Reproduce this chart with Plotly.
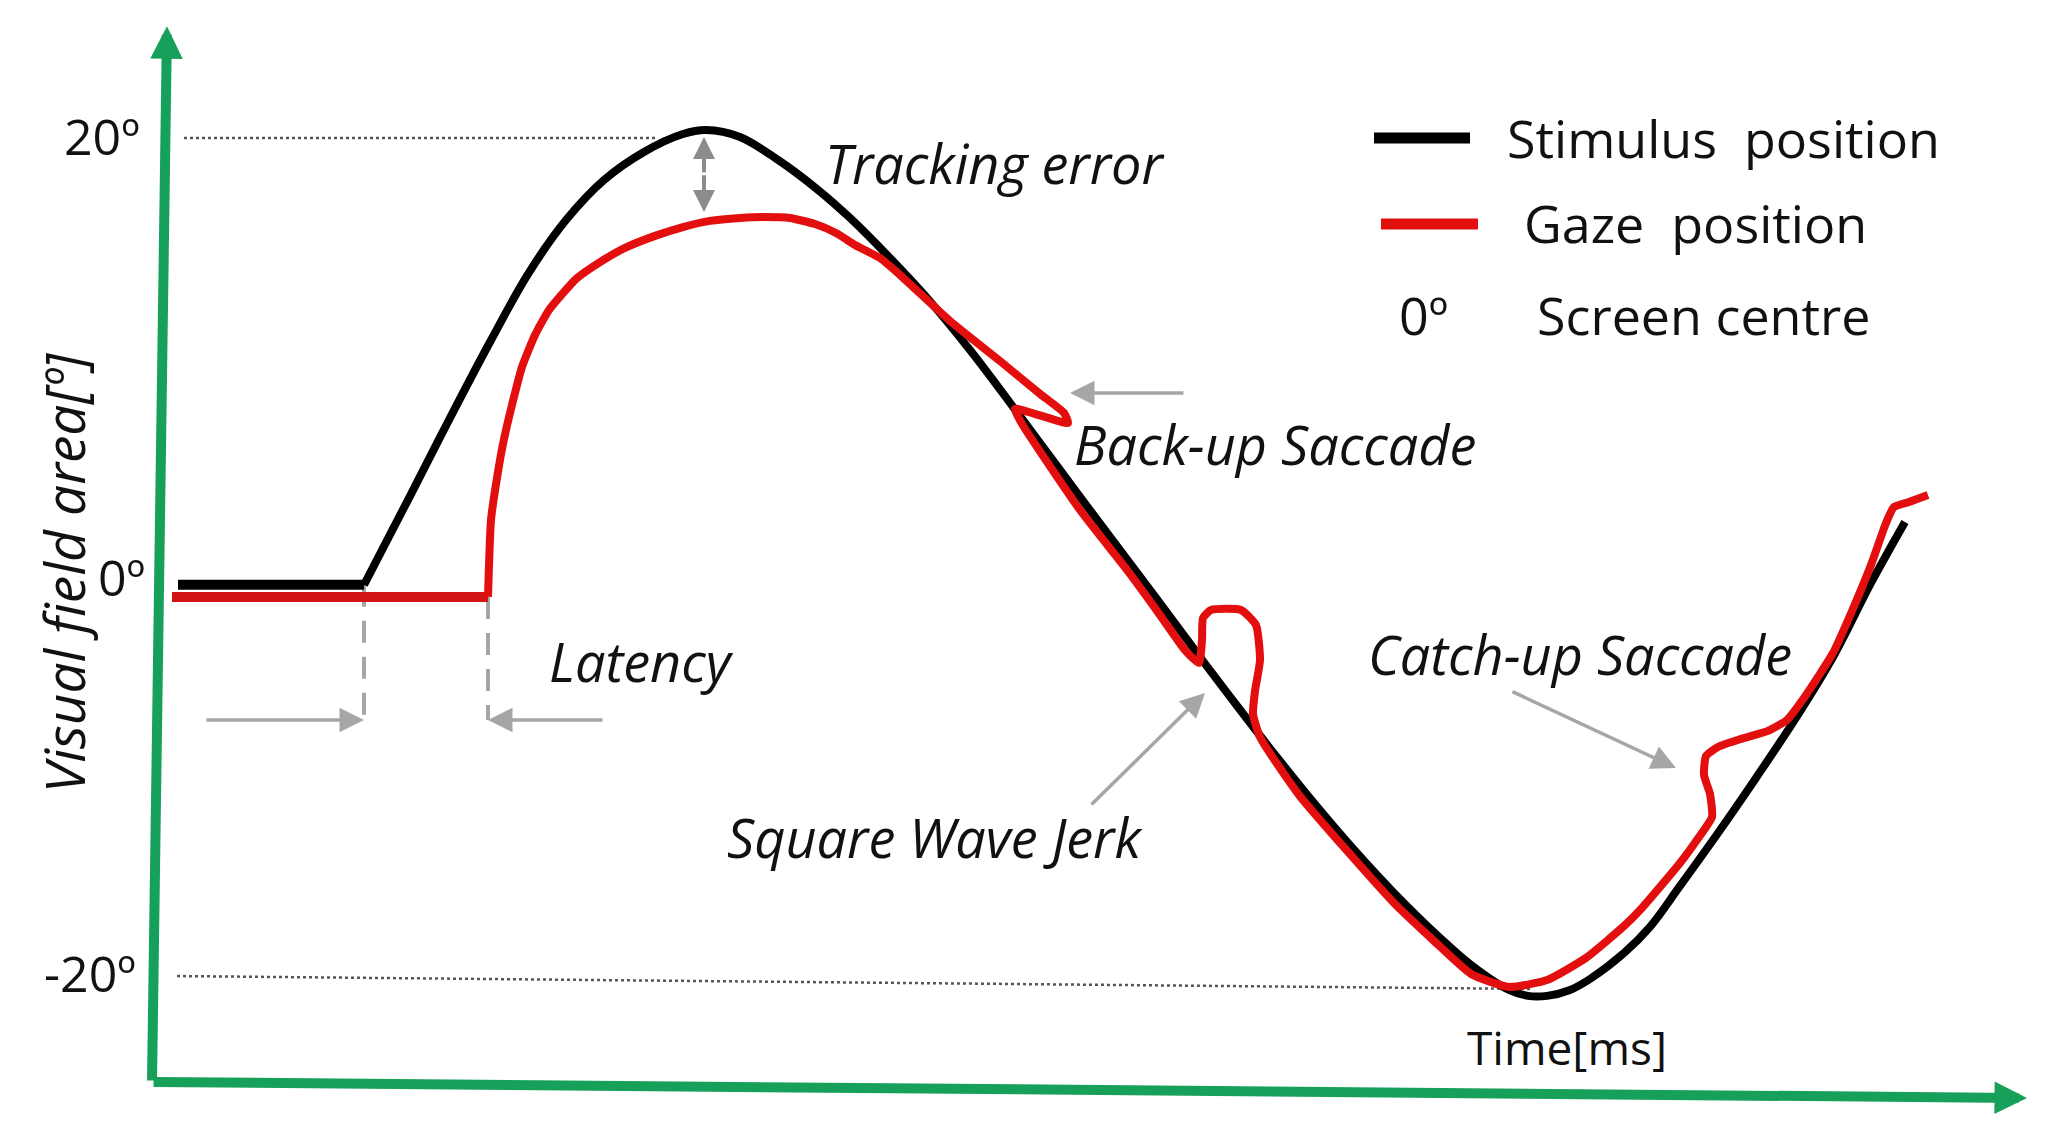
import plotly.graph_objects as go

# time in ms, visual field in degrees
STIM_BASE_T = [9, 102]
STIM_BASE_Y = [-1.18, -1.18]
STIM_T = [102, 125, 145, 165, 184, 203, 222, 242, 261.5, 273,
          290, 309, 328.5, 345, 365, 383.5, 405, 425.5, 460, 498,
          521.5, 540.5, 560, 579, 598, 617, 640, 655.5, 674.5, 684,
          693.5, 705, 715, 732, 745, 760, 779, 798, 817, 836.5,
          855.5, 872.5]
STIM_Y = [-1.18, 3.03, 6.73, 10.33, 13.55, 16.11, 18.01, 19.34, 20.19, 20.38,
          20.05, 18.96, 17.58, 16.21, 14.31, 12.42, 9.95, 7.39, 2.99, -1.80,
          -4.79, -7.16, -9.53, -11.75, -13.84, -15.78, -17.91, -19.19, -20.38, -20.66,
          -20.66, -20.38, -19.86, -18.63, -17.39, -15.45, -12.94, -10.33, -7.63, -4.60,
          -1.09, 1.80]

GAZE_BASE_T = [6, 164]
GAZE_BASE_Y = [-1.75, -1.75]
GAZE_T = [164, 165.5, 168.5, 171.5, 176, 181, 187.5, 194.5, 208, 220,
          232.5, 247.5, 261.5, 275, 290, 302.5, 315, 327.5, 338, 347.5,
          360, 370, 395, 420, 440, 452, 454, 427.5, 431, 460,
          483.5, 500, 512.5, 519.5, 521, 521.5, 525.5, 540.5, 548, 550,
          547.5, 546.5, 550, 569.5, 617, 636.5, 655.5, 674.5, 693.5, 713,
          732, 740.5, 760, 769.5, 776, 775, 772, 773, 779, 790.5,
          804, 813.5, 823, 836.5, 846, 855.5, 863, 867, 874.5, 884]
GAZE_Y = [-1.75, 1.90, 3.89, 5.50, 7.35, 9.15, 10.66, 11.85, 13.32, 14.12,
          14.79, 15.36, 15.78, 16.07, 16.21, 16.26, 16.21, 15.92, 15.50, 14.93,
          14.31, 13.51, 11.33, 9.43, 7.87, 6.97, 6.49, 7.16, 6.45, 2.37,
          -0.47, -2.61, -4.27, -4.88, -3.79, -2.75, -2.37, -2.37, -3.08, -4.74,
          -6.21, -7.30, -8.39, -11.14, -16.26, -18.01, -19.62, -20.24, -19.91, -18.86,
          -17.35, -16.54, -14.36, -13.13, -12.18, -11.09, -10.19, -9.29, -8.86, -8.48,
          -8.10, -7.58, -6.40, -4.41, -2.42, -0.24, 1.75, 2.51, 2.75, 3.08]

REF_HIGH_T = [12, 248]
REF_HIGH_Y = [20, 20]
REF_LOW_T = [8.5, 685]
REF_LOW_Y = [-19.72, -20.33]

TICK_TEXT = ["20º", "0º", "-20º"]
TICK_T = [-9, -6.5, -11]
TICK_Y = [20.1, -0.8, -19.57]

LATENCY_Y = -7.58
TRACK_T = 272
TRACK_Y = [20.05, 16.49]

GREEN = "#17a05a"
GREY = "#a6a6a6"
RED = "#e30f0f"
FONT = "Open Sans"

fig = go.Figure()

# reference levels
fig.add_trace(go.Scatter(x=REF_HIGH_T, y=REF_HIGH_Y, mode="lines",
                         line=dict(color="#555", width=2.5, dash="dot")))
fig.add_trace(go.Scatter(x=REF_LOW_T, y=REF_LOW_Y, mode="lines",
                         line=dict(color="#555", width=2.5, dash="dot")))

# latency markers
for t0, y0 in [(STIM_BASE_T[-1], STIM_BASE_Y[-1]), (GAZE_BASE_T[-1], GAZE_BASE_Y[-1])]:
    fig.add_trace(go.Scatter(x=[t0, t0], y=[y0, LATENCY_Y], mode="lines",
                             line=dict(color=GREY, width=4, dash="22px,14px")))

# stimulus + gaze
fig.add_trace(go.Scatter(x=STIM_BASE_T, y=STIM_BASE_Y, mode="lines",
                         line=dict(color="black", width=10)))
fig.add_trace(go.Scatter(x=STIM_T, y=STIM_Y, mode="lines",
                         line=dict(color="black", width=8, shape="spline", smoothing=1)))
fig.add_trace(go.Scatter(x=GAZE_BASE_T, y=GAZE_BASE_Y, mode="lines",
                         line=dict(color="#d11313", width=10)))
fig.add_trace(go.Scatter(x=GAZE_T, y=GAZE_Y, mode="lines",
                         line=dict(color=RED, width=8, shape="spline", smoothing=0.5)))


def arrow(tail, head, color=GREY, width=3.5, size=1.4):
    fig.add_annotation(x=head[0], y=head[1], ax=tail[0], ay=tail[1],
                       xref="x", yref="y", axref="x", ayref="y", text="",
                       showarrow=True, arrowhead=2, arrowsize=size, arrowwidth=width,
                       arrowcolor=color)


# axes drawn as green arrows
arrow((-4, -24.74), (3.5, 25.3), color=GREEN, width=10, size=0.65)
arrow((-4, -24.74), (933.5, -25.5), color=GREEN, width=10, size=0.65)

arrow((22.5, LATENCY_Y), (STIM_BASE_T[-1], LATENCY_Y))
arrow((222, LATENCY_Y), (GAZE_BASE_T[-1], LATENCY_Y))
arrow((TRACK_T, 18.3), (TRACK_T, TRACK_Y[0]), color="#8c8c8c", width=4, size=1.1)
arrow((TRACK_T, 18.3), (TRACK_T, TRACK_Y[1]), color="#8c8c8c", width=4, size=1.1)
arrow((512.5, 7.91), (455, 7.91))
arrow((465, -11.66), (522.5, -6.30))
arrow((675.5, -6.21), (758, -9.86))


def label(text, x, y, anchor="left", size=54, ref="x", angle=0):
    fig.add_annotation(x=x, y=y, xref=ref, yref="y" if ref == "x" else "paper",
                       text=text, showarrow=False, xanchor=anchor, yanchor="middle",
                       textangle=angle, font=dict(family=FONT, size=size, color="#111"))


label("<i>Tracking error</i>", 331.5, 18.82)
label("<i>Back-up Saccade</i>", 456, 5.5)
label("<i>Latency</i>", 193.5, -4.79)
label("<i>Square Wave Jerk</i>", 492.5, -13.13, anchor="right")
label("<i>Catch-up Saccade</i>", 603, -4.45)
label("Time[ms]", 652.5, -23.08, size=46)
label("<i>Visual field area[º]</i>", -48.5, -0.62, anchor="center", size=55, angle=-90)
for txt, tx, ty in zip(TICK_TEXT, TICK_T, TICK_Y):
    label(txt, tx, ty, anchor="right", size=50)

# legend drawn by hand
W, H = 2056, 1144
fig.add_shape(type="line", xref="paper", yref="paper", x0=1374 / W, x1=1470 / W,
              y0=1 - 138 / H, y1=1 - 138 / H, line=dict(color="black", width=11))
fig.add_shape(type="line", xref="paper", yref="paper", x0=1381 / W, x1=1478 / W,
              y0=1 - 224 / H, y1=1 - 224 / H, line=dict(color=RED, width=11))
label("Stimulus\u00a0 position", 1505 / W, 1 - 137 / H, size=52, ref="paper")
label("Gaze\u00a0 position", 1522 / W, 1 - 223 / H, size=52, ref="paper")
label("0º", 1397 / W, 1 - 314 / H, size=52, ref="paper")
label("Screen centre", 1535 / W, 1 - 314 / H, size=52, ref="paper")

fig.update_layout(
    width=W, height=H, showlegend=False,
    margin=dict(l=0, r=0, t=0, b=0),
    paper_bgcolor="white", plot_bgcolor="white",
    xaxis=dict(range=[-80, 948], visible=False),
    yaxis=dict(range=[-27.68, 26.54], visible=False),
)

fig.write_html("out.html", config={"displayModeBar": False},
               post_script="document.body.style.margin='0';document.body.style.overflow='hidden';")
